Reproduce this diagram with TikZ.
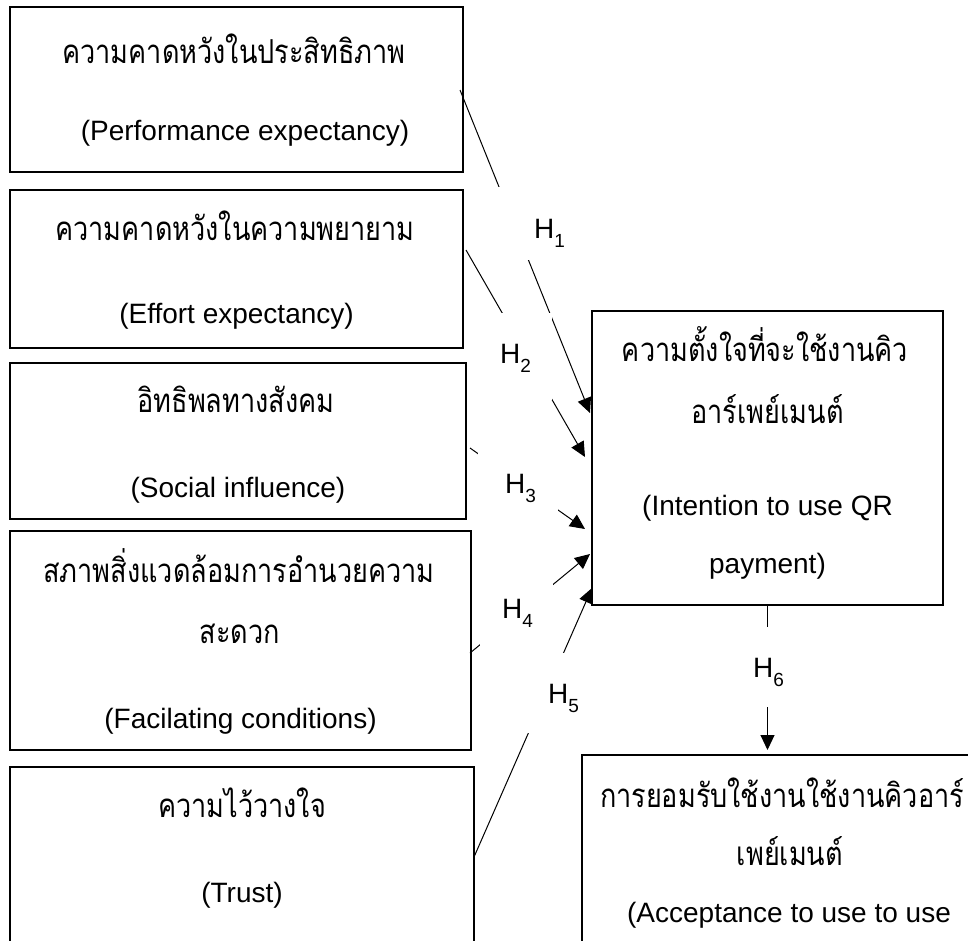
\documentclass[tikz,border=0pt]{standalone}
\usepackage{fontspec}
\setmainfont{Liberation Sans}
\newfontfamily\thaifont[Script=Thai, FakeStretch=0.82]{Loma}
\usetikzlibrary{arrows.meta}

\newcommand{\hyp}[1]{H\raisebox{-9pt}{\fontsize{19pt}{20pt}\selectfont #1}}

\tikzset{
  box/.style={draw, line width=1.2pt, inner sep=0pt, outer sep=0pt},
  thai/.style={font=\fontsize{33pt}{38pt}\selectfont\thaifont, anchor=base, inner sep=0pt},
  eng/.style={font=\fontsize{28pt}{34pt}\selectfont, anchor=base, inner sep=0pt},
  gap/.style={fill=white, inner sep=0pt, outer sep=0pt},
  hlab/.style={font=\fontsize{28pt}{34pt}\selectfont, anchor=base west, inner sep=0pt},
  arr/.style={-{Triangle[length=15pt,width=14pt]}, line width=1pt},
}

\begin{document}
\begin{tikzpicture}[x=1pt,y=-1pt]
\useasboundingbox (0,0) rectangle (968,940);
\clip (0,0) rectangle (968,940);

% factors
\node[box, minimum width=453pt, minimum height=165pt] (perf) at (236.5,89.5) {};
\node[box, minimum width=453pt, minimum height=158pt] (effort) at (236.5,269) {};
\node[box, minimum width=456pt, minimum height=156pt] (social) at (238,441) {};
\node[box, minimum width=461pt, minimum height=219pt] (facil) at (240.5,640.5) {};
\node[box, minimum width=464pt, minimum height=233pt] (trust) at (242,883.5) {};

% intention and acceptance
\node[box, minimum width=351pt, minimum height=294pt] (intent) at (767.5,458) {};
\node[box, minimum width=408pt, minimum height=245pt] (accept) at (786,877.5) {};

\node[thai] (perfth) at (234,63) {ความคาดหวังในประสิทธิภาพ};
\node[eng] (perfen) at (245,140) {(Performance expectancy)};
\node[thai] (effortth) at (235,240) {ความคาดหวังในความพยายาม};
\node[eng] (efforten) at (236.5,323) {(Effort expectancy)};
\node[thai] (socialth) at (236,412) {อิทธิพลทางสังคม};
\node[eng] (socialen) at (238,497) {(Social influence)};
\node[thai] (facilth) at (239,582) {สภาพสิ่งแวดล้อมการอำนวยความ};
\node[thai] (facilthb) at (240,643) {สะดวก};
\node[eng] (facilen) at (240.5,728) {(Facilating conditions)};
\node[thai] (trustth) at (242,817) {ความไว้วางใจ};
\node[eng] (trusten) at (242,902) {(Trust)};

\node[thai] (intentth) at (765,361) {ความตั้งใจที่จะใช้งานคิว};
\node[thai] (intentthb) at (767.5,423) {อาร์เพย์เมนต์};
\node[eng] (intenten) at (767.5,515) {(Intention to use QR};
\node[eng] (intentenb) at (767.5,573) {payment)};
\node[thai] (acceptth) at (782,807) {การยอมรับใช้งานใช้งานคิวอาร์};
\node[thai] (acceptthb) at (790,865) {เพย์เมนต์};
\node[eng] (accepten) at (789,922) {(Acceptance to use to use};

% arrow ends
\coordinate (p1) at ([shift={(-3,83)}]perf.north east);
\coordinate (q1) at ([shift={(-2,102)}]intent.north west);
\coordinate (p2) at ([shift={(3,60)}]effort.north east);
\coordinate (q2) at ([shift={(-7,146)}]intent.north west);
\coordinate (p3) at ([shift={(4,85)}]social.north east);
\coordinate (q3) at ([shift={(-7,218)}]intent.north west);
\coordinate (p4) at ([shift={(-1,122)}]facil.north east);
\coordinate (q4) at ([shift={(-2,243)}]intent.north west);
\coordinate (p5) at ([shift={(0,90)}]trust.north east);
\coordinate (q5) at ([shift={(0,277)}]intent.north west);
\coordinate (q6) at ([shift={(185.5,-5)}]accept.north west);

\draw[arr] (p1) -- (q1);
\draw[arr] (p2) -- (q2);
\draw[arr] (p3) -- (q3);
\draw[arr] (p4) -- (q4);
\draw[arr] (p5) -- (q5);
\draw[arr] (intent.south) -- (q6);

% label boxes over the arrows
\node[gap, minimum width=85pt, minimum height=73pt] (g1) at (532.5,223.5) {};
\node[gap, minimum width=64pt, minimum height=87pt] (g2) at (520,356.5) {};
\node[gap, minimum width=80pt, minimum height=100pt] (g3) at (518,480) {};
\node[gap, minimum width=73pt, minimum height=95pt] (g4) at (516.5,622.5) {};
\node[gap, minimum width=90pt, minimum height=80pt] (g5) at (545,693) {};
\node[gap, minimum width=45pt, minimum height=80pt] (g6) at (767.5,667) {};

\node[hlab] (h1) at (534,238) {\hyp{1}};
\node[hlab] (h2) at (500,363) {\hyp{2}};
\node[hlab] (h3) at (505,493) {\hyp{3}};
\node[hlab] (h4) at (502,618) {\hyp{4}};
\node[hlab] (h5) at (548,703) {\hyp{5}};
\node[hlab] (h6) at (753,677) {\hyp{6}};
\end{tikzpicture}
\end{document}
